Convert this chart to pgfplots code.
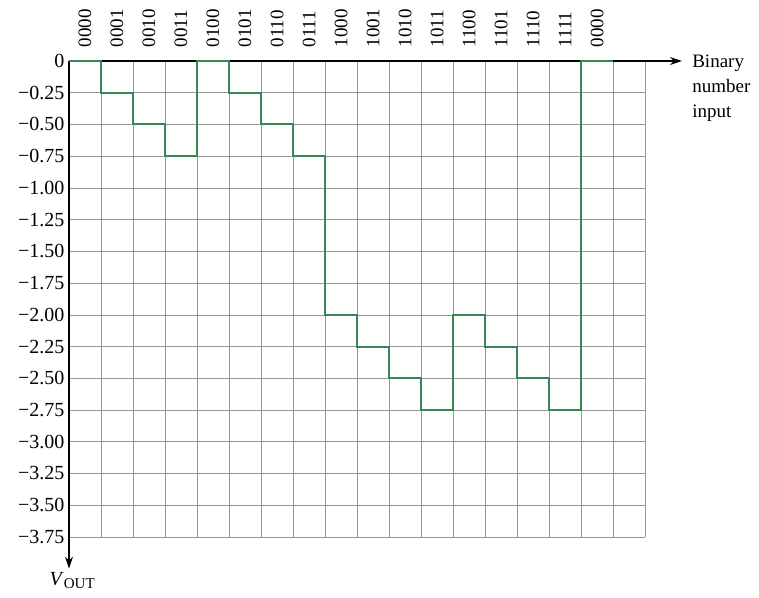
\documentclass[border=0pt]{standalone}
\usepackage{fontspec}
\setmainfont{Liberation Serif}
\usepackage{pgfplots}
\pgfplotsset{compat=1.18}
\usetikzlibrary{arrows.meta}
\definecolor{stepgreen}{RGB}{55,135,85}
\definecolor{gridgray}{RGB}{150,150,150}
\begin{document}
\begin{tikzpicture}
\begin{axis}[
  x=32pt, y=126.9pt,
  xmin=0, xmax=18, ymin=-3.75, ymax=0,
  clip=false,
  axis line style={draw=none},
  xtick={0.5,1.5,2.5,3.5,4.5,5.5,6.5,7.5,8.5,9.5,10.5,11.5,12.5,13.5,14.5,15.5,16.5},
  xticklabels={0000,0001,0010,0011,0100,0101,0110,0111,1000,1001,1010,1011,1100,1101,1110,1111,0000},
  xticklabel pos=upper,
  xticklabel style={rotate=90, anchor=west, font=\fontsize{19}{21}\selectfont, xshift=10pt},
  minor xtick={0,1,...,18},
  xminorgrids=true,
  ytick={0,-0.25,-0.5,-0.75,-1,-1.25,-1.5,-1.75,-2,-2.25,-2.5,-2.75,-3,-3.25,-3.5,-3.75},
  yticklabels={0,−0.25,−0.50,−0.75,−1.00,−1.25,−1.50,−1.75,−2.00,−2.25,−2.50,−2.75,−3.00,−3.25,−3.50,−3.75},
  yticklabel style={font=\fontsize{20}{22}\selectfont, anchor=east, xshift=-1pt},
  ymajorgrids=true,
  major tick length=0pt, minor tick length=0pt,
  grid style={gridgray, line width=0.6pt},
  minor grid style={gridgray, line width=0.6pt},
]
\draw[black, line width=1.1pt, -{Stealth[length=12pt,width=8pt]}] (axis cs:0,0) -- (axis cs:19.15,0);
\draw[black, line width=1.1pt, -{Stealth[length=12pt,width=8pt]}] (axis cs:0,0) -- (axis cs:0,-4.0);
\addplot[const plot, stepgreen, line width=2pt] coordinates {
(0,0) (1,-0.25) (2,-0.5) (3,-0.75) (4,0) (5,-0.25) (6,-0.5) (7,-0.75)
(8,-2) (9,-2.25) (10,-2.5) (11,-2.75) (12,-2) (13,-2.25) (14,-2.5) (15,-2.75)
(16,0) (17,0)};
\node[anchor=north west, align=left, font=\fontsize{19}{25}\selectfont, inner sep=0pt, yshift=6pt] at (axis cs:19.47,0) {Binary\\number\\input};
\node[anchor=north, inner sep=0pt, font=\fontsize{20}{22}\selectfont] at (axis cs:0.1,-4.03) {\textit{V}\raisebox{-0.35ex}{\fontsize{15}{17}\selectfont OUT}};
\coordinate (tl) at (axis cs:-2.156,0.4807);
\coordinate (br) at (axis cs:21.56,-4.224);
\end{axis}
\pgfresetboundingbox
\path[use as bounding box] (tl) rectangle (br);
\end{tikzpicture}
\end{document}
